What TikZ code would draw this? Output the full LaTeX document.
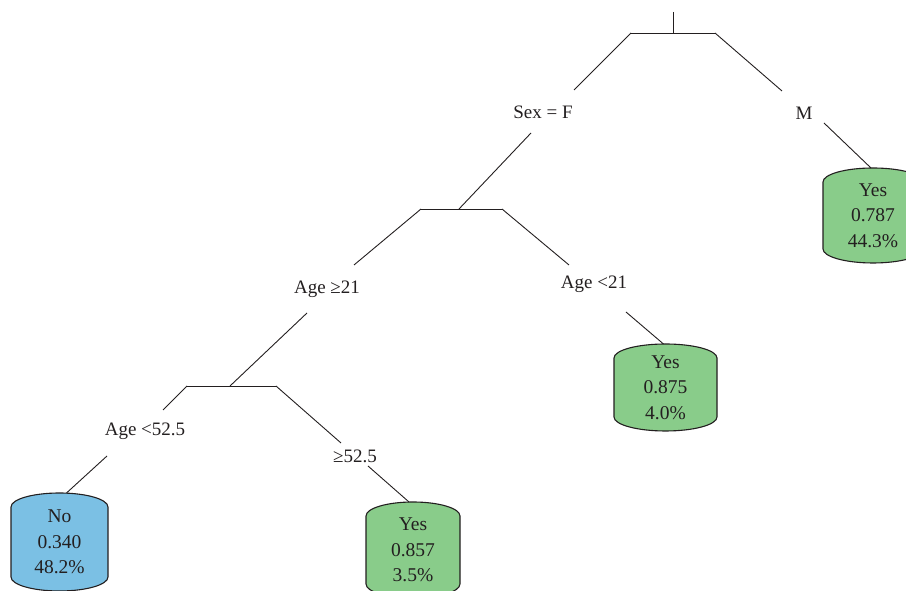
\documentclass[tikz,border=0pt]{standalone}
\usepackage{fontspec}
\setmainfont{Liberation Serif}
\definecolor{leafgreen}{RGB}{137,204,138}
\definecolor{leafblue}{RGB}{123,192,228}
\definecolor{ink}{RGB}{35,31,32}
\pgfdeclarelayer{background}
\pgfsetlayers{background,main}
% barrel outline behind a leaf node: name, half width, fill
\newcommand{\barrel}[3]{%
  \draw[leafline, fill=#3] ([yshift=-14pt]#1.north west)
    arc[start angle=180, end angle=0, x radius=#2pt, y radius=14pt]
    -- ([yshift=14pt]#1.south east)
    arc[start angle=0, end angle=-180, x radius=#2pt, y radius=14pt] -- cycle;}

\begin{document}
\begin{tikzpicture}[x=1pt, y=1pt,
    splitlabel/.style={font=\fontsize{19}{25.5}\selectfont, text=ink, inner sep=2pt},
    leafnode/.style={font=\fontsize{19.5}{25.5}\selectfont, text=ink, align=center, inner sep=0pt, outer sep=0pt},
    branch/.style={draw=ink, line width=0.9pt},
    leafline/.style={draw=ink, line width=1.1pt}]

        \useasboundingbox (0,0) rectangle (906,591);
        \clip (0,0) rectangle (906,591);

        % tree skeleton
        \coordinate (top) at (673,579);
        \coordinate (r0) at (673,558);
        \coordinate (b1l) at (631,558);
        \coordinate (b1r) at (715,558);
        \coordinate (j2) at (459,382);
        \coordinate (b2l) at (421,382);
        \coordinate (b2r) at (502,382);
        \coordinate (j3) at (230,205);
        \coordinate (b3l) at (187,205);
        \coordinate (b3r) at (276,205);

        % split labels
        \node[splitlabel] (sexf) at (543,479) {Sex = F};
        \node[splitlabel] (male) at (804,478) {M};
        \node[splitlabel] (agege21) at (327,302) {Age ≥21};
        \node[splitlabel] (agelt21) at (594,307) {Age <21};
        \node[splitlabel] (agelt52) at (145,160) {Age <52.5};
        \node[splitlabel] (agege52) at (355,135) {≥52.5};

        % leaves
        \node[leafnode, minimum width=100pt, minimum height=95pt] (leafm) at (873,375.5) {Yes\\0.787\\44.3\%};
        \node[leafnode, minimum width=103pt, minimum height=87pt] (leafyoung) at (665.5,203.5) {Yes\\0.875\\4.0\%};
        \node[leafnode, minimum width=97pt, minimum height=98pt] (leafno) at (59.5,49) {No\\0.340\\48.2\%};
        \node[leafnode, minimum width=94pt, minimum height=96pt] (leafold) at (413,41) {Yes\\0.857\\3.5\%};

        \begin{pgfonlayer}{background}
        \barrel{leafm}{50}{leafgreen}
        \barrel{leafyoung}{51.5}{leafgreen}
        \barrel{leafno}{48.5}{leafblue}
        \barrel{leafold}{47}{leafgreen}
        \end{pgfonlayer}

        % connectors
        \draw[branch] (top) -- (r0);
        \draw[branch] (b1l) -- (b1r);
        \draw[branch] (b1l) -- ([shift={(31,22)}]sexf.center);
        \draw[branch] (b1r) -- ([shift={(-22,22)}]male.center);
        \draw[branch] ([shift={(20,-10)}]male.center) -- ([xshift=-2pt]leafm.north);
        \draw[branch] ([shift={(-12,-21)}]sexf.center) -- (j2);
        \draw[branch] (b2l) -- (b2r);
        \draw[branch] (b2l) -- ([shift={(27,24)}]agege21.center);
        \draw[branch] (b2r) -- ([shift={(-25,19)}]agelt21.center);
        \draw[branch] ([shift={(32,-28)}]agelt21.center) -- ([xshift=-2pt]leafyoung.north);
        \draw[branch] ([shift={(-20,-24)}]agege21.center) -- (j3);
        \draw[branch] (b3l) -- (b3r);
        \draw[branch] (b3l) -- ([shift={(18,21)}]agelt52.center);
        \draw[branch] (b3r) -- ([shift={(-14,13)}]agege52.center);
        \draw[branch] ([shift={(-38,-25)}]agelt52.center) -- ([xshift=7pt]leafno.north);
        \draw[branch] ([shift={(13,-10)}]agege52.center) -- ([xshift=-4pt]leafold.north);

\end{tikzpicture}
\end{document}
